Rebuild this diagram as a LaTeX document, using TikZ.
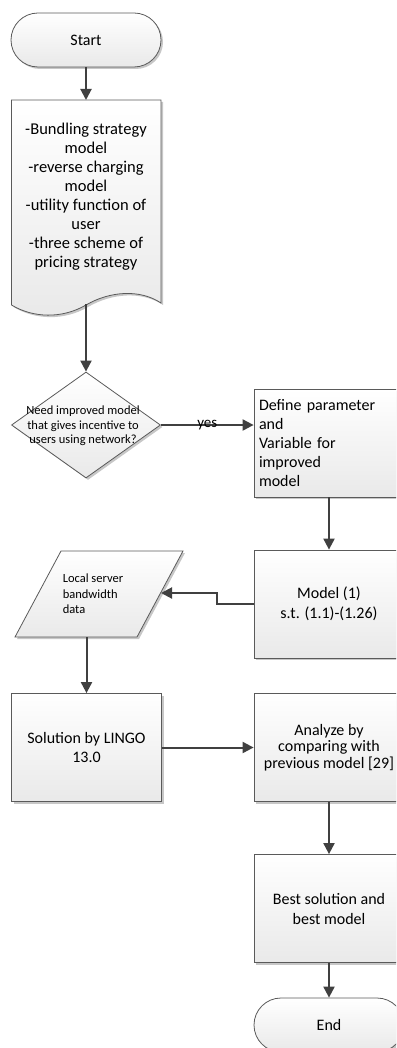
\documentclass[tikz,border=0pt]{standalone}
\usepackage{fontspec}
\setmainfont{Carlito}
\usetikzlibrary{arrows.meta,shapes.misc,shapes.geometric,shadows}
\definecolor{edgec}{HTML}{5A5A5A}
\definecolor{arrowc}{HTML}{404040}
\definecolor{fillbot}{HTML}{E9E9E9}
\begin{document}
\begin{tikzpicture}[x=1pt,y=-1pt,
  shp/.style={draw=edgec, line width=0.8pt, top color=white, bottom color=fillbot,
    drop shadow={shadow xshift=2pt,shadow yshift=-2pt,fill=black!22,opacity=1}},
  boxs/.style={shp, rectangle, minimum width=150pt, minimum height=108pt, inner sep=0pt,
    align=center, font=\fontsize{16}{20}\selectfont},
  term/.style={shp, rounded rectangle, minimum width=150pt, minimum height=54pt, inner sep=0pt,
    font=\fontsize{16}{20}\selectfont},
  lbl/.style={inner sep=0pt, align=center},
  arr/.style={draw=arrowc, line width=2pt, -{Triangle[length=11pt,width=11pt]}},
]
\useasboundingbox (0,0) rectangle (396,1048);
\clip (0,0) rectangle (396,1048);

% Start
\node[term] (start) at (86,40) {Start};

% Document shape
\path[shp] (11.5,100) -- (161,100) -- (161,303)
  .. controls (140,289) and (110,291) .. (86,305)
  .. controls (62,319) and (33,318) .. (11.5,305) -- cycle;
\coordinate (doctop) at (86,100);
\coordinate (docbot) at (86,304);
\node[lbl, font=\fontsize{16.5}{19}\selectfont] (doc) at (86,197)
  {-Bundling strategy\\model\\-reverse charging\\model\\-utility function of\\user\\-three scheme of\\pricing strategy};

% Decision
\node[shp, diamond, minimum width=149pt, minimum height=106pt, inner sep=0pt] (dec) at (86,425) {};
\node[lbl, font=\fontsize{12.5}{14.6}\selectfont] (dectext) at (83,426)
  {Need improved model\\that gives incentive to\\users using network?};

% Define box
\node[boxs, align=left, text width=140pt, font=\fontsize{16}{19}\selectfont] (def) at (329,443)
  {Define parameter\\and\\Variable for\\improved\\model};

% Model box
\node[boxs] (model) at (329,604) {Model (1)\\s.t. (1.1)-(1.26)};

% Data parallelogram
\path[shp] (61,551) -- (183,551) -- (137,637) -- (15,637) -- cycle;
\node[minimum width=122pt, minimum height=86pt, inner sep=0pt] (para) at (99,594) {};
\node[lbl, align=left, font=\fontsize{12.5}{15.5}\selectfont] (paratext) at (93,594)
  {Local server\\bandwidth\\data};
\coordinate (pr) at (161,593);

% Solution
\node[boxs] (sol) at (86.5,747.5) {Solution by LINGO\\13.0};

% Analyze
\node[boxs, font=\fontsize{16}{16.5}\selectfont] (ana) at (329,747.5)
  {Analyze by\\comparing with\\previous model [29]};

% Best
\node[boxs] (best) at (329,908.5) {Best solution and\\best model};

% End
\node[term] (end) at (329,1025) {End};

% Connectors
\draw[arr] (start.south) -- (doctop);
\draw[arr] (docbot) -- (dec.north);
\draw[arr] (dec.east) -- node[inner sep=0pt, font=\fontsize{15}{18}\selectfont] {yes} (dec.east -| def.west);
\draw[arr] (def.south) -- (model.north);
\draw[arr] (model.west) -- ++(-37,0) |- (pr);
\draw[arr] (para.south -| sol.north) -- (sol.north);
\draw[arr] (sol.east) -- (ana.west);
\draw[arr] (ana.south) -- (best.north);
\draw[arr] (best.south) -- (end.north);
\end{tikzpicture}
\end{document}
